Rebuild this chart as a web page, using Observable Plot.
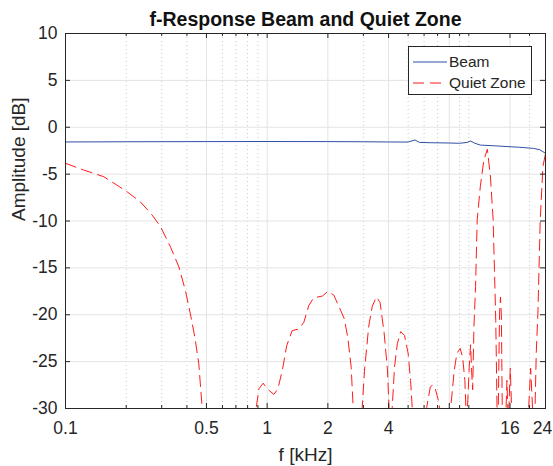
<!DOCTYPE html>
<html><head><meta charset="utf-8">
<script src="https://cdn.jsdelivr.net/npm/d3@7"></script>
<script src="https://cdn.jsdelivr.net/npm/@observablehq/plot@0.6"></script>
<style>
body{margin:0;background:#fff;font-family:"Liberation Sans",Arial,Helvetica,sans-serif;}
#wrap{position:relative;width:553px;height:466px;}
#legend{position:absolute;left:0;top:0;}
</style></head><body><div id="wrap"></div>
<script>
const title = "f-Response Beam and Quiet Zone";
const xLabel = "f [kHz]";
const yLabel = "Amplitude [dB]";
const seriesNames = ["Beam", "Quiet Zone"];

const beamF  = [0.1, 0.2, 0.5, 1, 2, 3, 4, 5, 5.4, 5.7, 6.5, 8, 9, 9.8, 10.2, 10.7, 11.4, 14, 17.9, 20.9, 22.5, 24];
const beamDb = [-1.57, -1.55, -1.53, -1.52, -1.53, -1.55, -1.57, -1.58, -1.36, -1.62, -1.65, -1.68, -1.71, -1.62, -1.47, -1.7, -1.9, -2.0, -2.14, -2.25, -2.4, -2.78];

const qzF = [0.1, 0.123, 0.155, 0.202, 0.235, 0.269, 0.296, 0.332, 0.365, 0.393, 0.416, 0.438, 0.458, 0.476, 0.49,
  0.86, 0.883, 0.91, 0.955, 1.0, 1.08, 1.13, 1.19, 1.25, 1.33, 1.44, 1.52, 1.61, 1.70, 1.88, 2.00, 2.14, 2.31, 2.41, 2.51, 2.61, 2.67, 2.8,
  2.9, 2.96, 3.04, 3.19, 3.32, 3.48, 3.63, 3.80, 3.95, 4.02, 4.1,
  4.17, 4.28, 4.42, 4.59, 4.80, 5.00, 5.14, 5.24, 5.5,
  6.0, 6.18, 6.44, 6.63, 6.82, 7.14, 7.3,
  8.0, 8.13, 8.47, 8.73, 9.06, 9.31, 9.56, 9.67, 9.75,
  9.85, 10.05, 10.2, 10.35, 10.45, 10.6, 10.8, 11.0, 11.4, 11.87, 12.36, 12.8, 13.2, 13.4, 13.6, 13.8, 13.9,
  14.0, 14.2, 14.35, 14.5, 14.65, 14.8,
  15.3, 15.45, 15.6, 15.7, 15.8, 16.05, 16.3, 16.5,
  19.6, 19.8, 20.25, 20.7, 21.1,
  21.3, 21.6, 22.0, 22.6, 23.3, 24];
const qzDb = [-3.85, -4.56, -5.28, -6.88, -7.95, -9.37, -10.6, -12.8, -14.9, -17.4, -19.9, -22.4, -25.2, -29.9, -40,
  -40, -29.9, -27.9, -27.3, -27.9, -28.5, -27.9, -25.9, -23.3, -21.7, -21.5, -20.8, -19.0, -18.2, -18.0, -17.5, -17.9, -19.5, -20.4, -22.4, -25.6, -29.9, -40,
  -40, -29.9, -25.9, -21.2, -19.1, -18.1, -18.7, -21.9, -25.9, -29.9, -40,
  -29.9, -25.6, -23.1, -21.8, -22.2, -24.1, -27.0, -29.9, -40,
  -40, -29.9, -27.7, -27.5, -27.9, -29.5, -40,
  -40, -29.9, -25.9, -24.1, -23.6, -24.5, -27.0, -29.9, -40,
  -29.9, -25.5, -23.2, -26.5, -28.0, -21.3, -17.0, -9.9, -6.35, -3.5, -2.35, -5.3, -9.9, -15.2, -20.6, -29.9, -40,
  -30, -20, -18.1, -20, -30, -40,
  -30, -27, -30, -40, -30, -25.7, -30, -40,
  -40, -30, -25.7, -30, -40,
  -29.9, -24, -19.9, -9.9, -4.2, -2.8];

const xTicks = [0.1, 0.5, 1, 2, 4, 8, 16, 24];
const xMinor = [0.2, 0.3, 0.4, 0.6, 0.7, 0.8, 0.9, 3, 5, 6, 7, 9, 10, 20];
const yTicks = [-30, -25, -20, -15, -10, -5, 0, 5, 10];

const beam = beamF.map((f, i) => ({f, db: beamDb[i]}));
const qz = qzF.map((f, i) => ({f, db: qzDb[i]}));

const W = 553, H = 466, mL = 65, mR = 8, mT = 33, mB = 58;
const pw = W - mL - mR, ph = H - mT - mB;
const axisColor = "#262626";
const beamColor = "#3050a8";
const qzColor = "#ff1a1a";
const dash = "11,6";
const font = "'Liberation Sans', Arial, Helvetica, sans-serif";
const lastTick = xTicks[xTicks.length - 1];

const chart = Plot.plot({
  width: W, height: H,
  marginLeft: mL, marginRight: mR, marginTop: mT, marginBottom: mB,
  style: {fontFamily: font, fontSize: "17px", color: axisColor, background: "#fff"},
  x: {type: "log", domain: [0.1, 24], axis: null},
  y: {domain: [-30, 10], axis: null},
  marks: [
    Plot.ruleX(xMinor, {stroke: "#c8c8c8", strokeDasharray: "1,3"}),
    Plot.ruleX(xTicks, {stroke: "#e3e3e3"}),
    Plot.ruleY(yTicks, {stroke: "#e3e3e3"}),
    Plot.line(beam, {x: "f", y: "db", stroke: beamColor, strokeWidth: 1, clip: true}),
    Plot.line(qz, {x: "f", y: "db", stroke: qzColor, strokeWidth: 1, strokeDasharray: dash, clip: true}),
    Plot.frame({stroke: axisColor, strokeWidth: 1}),
    Plot.tickY(yTicks, {y: d => d, stroke: axisColor, insetRight: pw - 5}),
    Plot.tickY(yTicks, {y: d => d, stroke: axisColor, insetLeft: pw - 5}),
    Plot.tickX(xTicks, {x: d => d, stroke: axisColor, insetTop: ph - 5}),
    Plot.tickX(xTicks, {x: d => d, stroke: axisColor, insetBottom: ph - 5}),
    Plot.tickX(xMinor, {x: d => d, stroke: axisColor, insetTop: ph - 3}),
    Plot.tickX(xMinor, {x: d => d, stroke: axisColor, insetBottom: ph - 3}),
    Plot.axisX({ticks: xTicks.slice(0, -1), tickSize: 0, tickPadding: 13, tickFormat: d => String(d), label: null, fill: axisColor, fontSize: 17.5}),
    Plot.axisX({ticks: [lastTick], tickSize: 0, tickPadding: 13, tickFormat: d => String(d), label: null, fill: axisColor, fontSize: 17.5, dx: -3}),
    Plot.axisY({ticks: yTicks, tickSize: 0, tickPadding: 8, tickFormat: d => String(d), label: null, fill: axisColor, fontSize: 17.5}),
    Plot.text([title], {frameAnchor: "top", lineAnchor: "middle", dy: -14, fontWeight: "bold", fontSize: 19.5, fill: "#111"}),
    Plot.text([xLabel], {frameAnchor: "bottom", lineAnchor: "middle", dy: 46, fontSize: 19, fill: axisColor}),
    Plot.text([yLabel], {frameAnchor: "left", lineAnchor: "middle", dx: -47, rotate: -90, fontSize: 19, fill: axisColor})
  ]
});
const wrap = document.getElementById("wrap");
wrap.appendChild(chart);

// legend overlay
const ns = "http://www.w3.org/2000/svg";
const lg = document.createElementNS(ns, "svg");
lg.setAttribute("id", "legend");
lg.setAttribute("width", W); lg.setAttribute("height", H);
const colors = [beamColor, qzColor];
const dashes = [null, dash];
let html = `<rect x="408.5" y="46.5" width="123" height="48" fill="#fff" stroke="${axisColor}" stroke-width="1"/>`;
seriesNames.forEach((n, i) => {
  const y = 62 + i * 21;
  html += `<line x1="413" x2="447" y1="${y}" y2="${y}" stroke="${colors[i]}" stroke-width="1" ${dashes[i] ? `stroke-dasharray="${dashes[i]}"` : ""}/>`;
  html += `<text x="449" y="${y}" dy="0.35em" font-size="15.5" fill="${axisColor}" font-family="${font}">${n}</text>`;
});
lg.innerHTML = html;
wrap.appendChild(lg);
</script>
</body></html>
